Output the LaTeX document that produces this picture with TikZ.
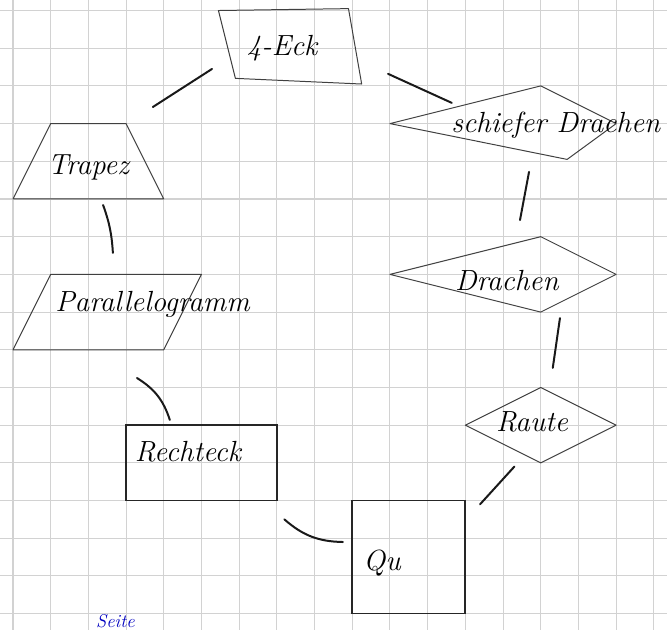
\documentclass[tikz,border=0pt]{standalone}
\usepackage{tikz}
\tikzset{
  paper/.style = {gray!35, line width=0.8pt},
  fig/.style = {draw=black!75, line width=0.75pt, line join=round},
  box/.style = {draw=black!85, line width=1.3pt},
  lnk/.style = {black!90, line width=1.5pt, line cap=round},
  lbl/.style = {font=\fontsize{22}{26}\selectfont\itshape, inner sep=0pt},
}

\begin{document}
\begin{tikzpicture}
\useasboundingbox (-0.345,-16.43) rectangle (17.35,0.279);
\clip (-0.345,-16.43) rectangle (17.35,0.279);
\draw[paper, step=1] (-1,-17) grid (18,1);

\draw[fig] (5.45,0) -- (8.9,0.05) -- (9.25,-1.95) -- (5.9,-1.8) -- cycle;
\draw[fig] (0,-5) -- (1,-3) -- (3,-3) -- (4,-5) -- cycle;
\draw[fig] (0,-9) -- (1,-7) -- (5,-7) -- (4,-9) -- cycle;
\draw[fig] (10,-3) -- (14,-2) -- (16,-3) -- (14.7,-3.95) -- cycle;
\draw[fig] (10,-7) -- (14,-6) -- (16,-7) -- (14,-8) -- cycle;
\draw[fig] (12,-11) -- (14,-10) -- (16,-11) -- (14,-12) -- cycle;
\draw[box] (3,-11) rectangle (7,-13);
\draw[box] (9,-13) rectangle (12,-16);

\node[lbl] (eck) at (7.14,-1.0) {4-Eck};
\node[lbl] (trap) at (2.0,-4.15) {Trapez};
\node[lbl] (para) at (3.7,-7.8) {Parallelogramm};
\node[lbl] (sdr) at (14.4,-3.04) {schiefer Drachen};
\node[lbl] (dra) at (13.1,-7.15) {Drachen};
\node[lbl] (rau) at (13.77,-10.9) {Raute};
\node[lbl] (rech) at (4.64,-11.7) {Rechteck};
\node[lbl] (qu) at (9.79,-14.65) {Qu};
\node[font=\fontsize{14}{16}\selectfont\itshape, inner sep=0pt,
  text=blue!75!black, anchor=south west] (sei) at (2.2,-16.38) {Seite};

\coordinate (e1) at (5.28,-1.55);  \coordinate (t1) at (3.71,-2.56);
\coordinate (e2) at (9.95,-1.68);  \coordinate (s1) at (11.64,-2.45);
\coordinate (s2) at (13.69,-4.28); \coordinate (d1) at (13.45,-5.56);
\coordinate (d2) at (14.51,-8.16); \coordinate (r1) at (14.32,-9.48);
\coordinate (r2) at (13.3,-12.1);  \coordinate (q1) at (12.39,-13.1);
\coordinate (h2) at (7.2,-13.5);   \coordinate (q2) at (8.75,-14.1);
\coordinate (p2) at (3.29,-9.75);  \coordinate (h1) at (4.16,-10.86);
\coordinate (t2) at (2.39,-5.16);  \coordinate (p1) at (2.65,-6.43);

\draw[lnk] (e1) -- (t1);
\draw[lnk] (e2) -- (s1);
\draw[lnk] (s2) -- (d1);
\draw[lnk] (d2) -- (r1);
\draw[lnk] (r2) -- (q1);
\draw[lnk] (h2) to[bend right=20] (q2);
\draw[lnk] (p2) to[bend left=20] (h1);
\draw[lnk] (t2) to[bend left=8] (p1);
\end{tikzpicture}
\end{document}
